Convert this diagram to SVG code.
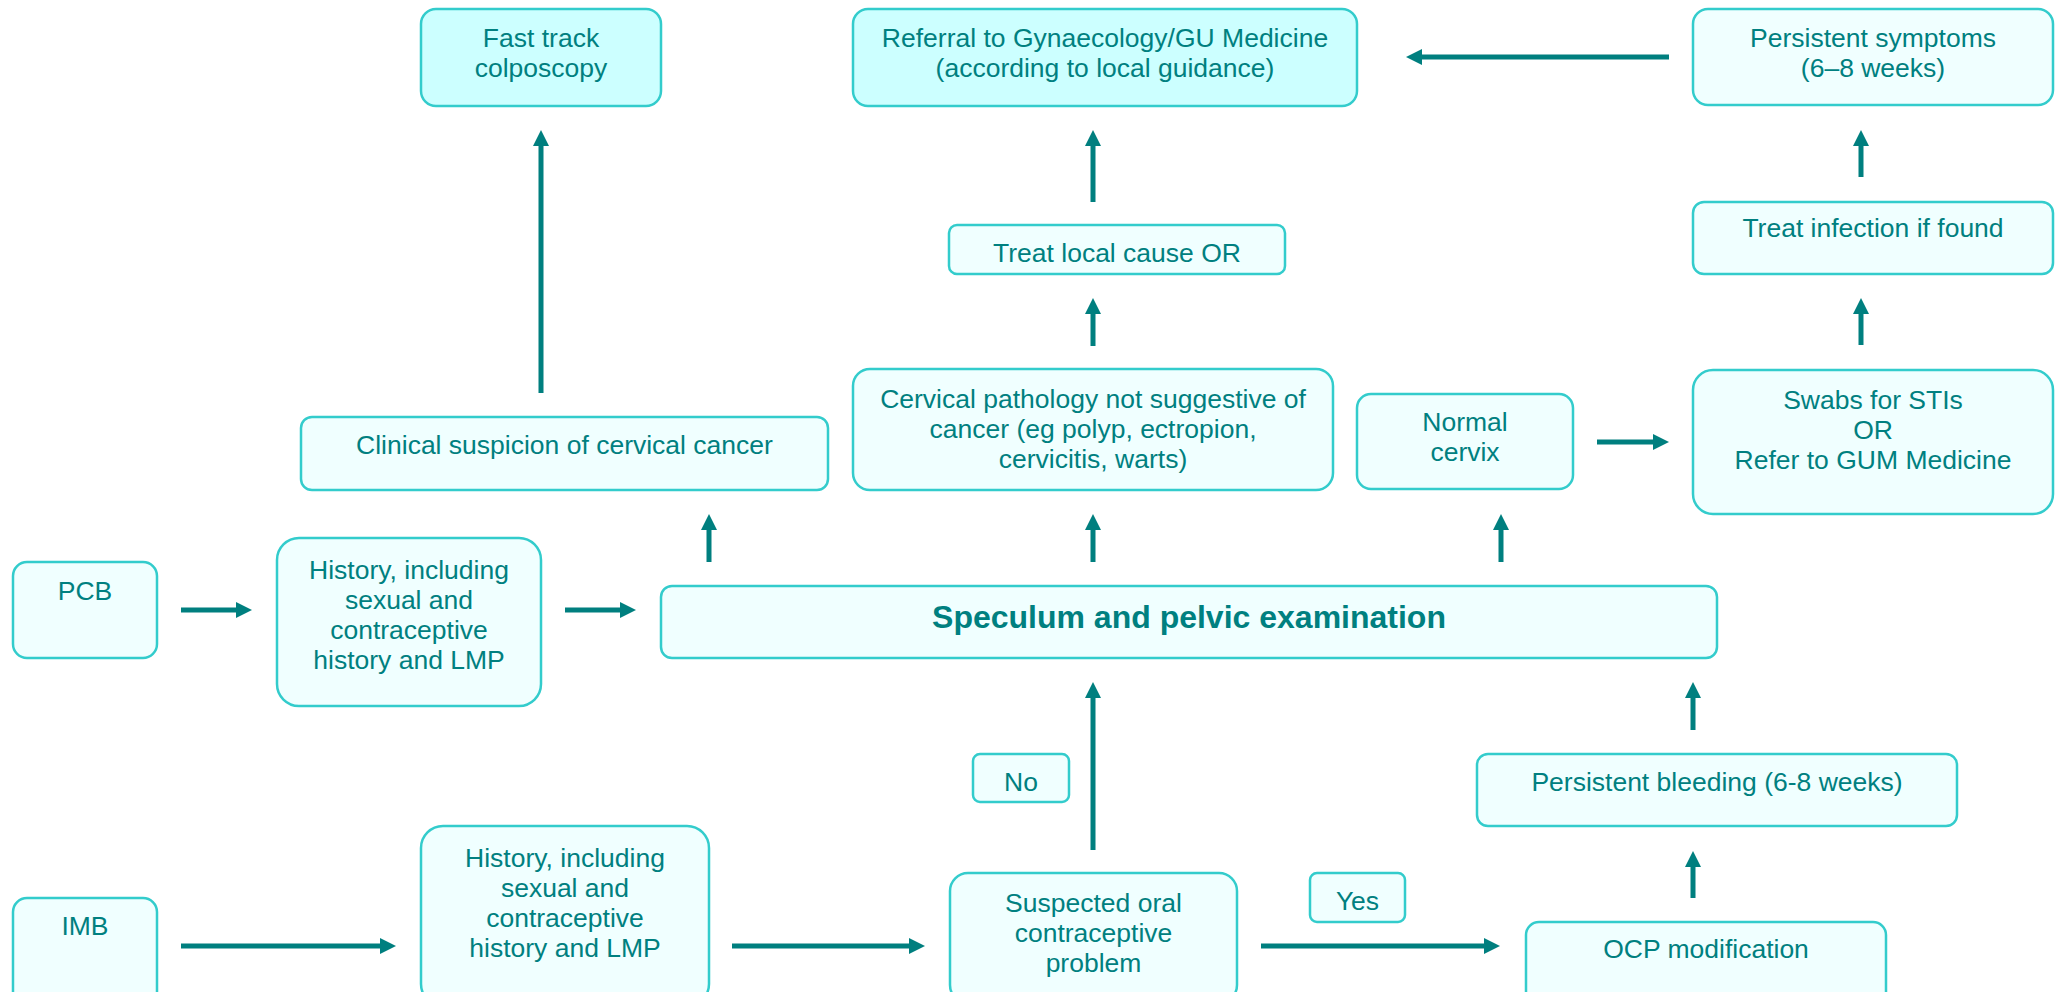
<svg xmlns="http://www.w3.org/2000/svg" width="2062" height="992" viewBox="0 0 2062 992">
<defs>
<marker id="ah" markerUnits="userSpaceOnUse" markerWidth="16" markerHeight="16" refX="2" refY="8" orient="auto">
<path d="M0,0 L16,8 L0,16 z" fill="#007F7F"/>
</marker>
</defs>
<style>
.box{fill:#F0FFFF;stroke:#33CCCC;stroke-width:2.5}
.hi{fill:#CCFFFF}
.t{font-family:"Liberation Sans",Arial,sans-serif;font-size:26.5px;fill:#008080;text-anchor:middle}
.b{font-weight:bold;font-size:32px}
.c{stroke:#007F7F;stroke-width:5;fill:none;marker-end:url(#ah)}
</style>
<rect width="2062" height="992" fill="#FFFFFF"/>
<g id="connectors">
<line class="c" x1="541" y1="393" x2="541" y2="144"/>
<line class="c" x1="1093" y1="202" x2="1093" y2="144"/>
<line class="c" x1="1093" y1="346" x2="1093" y2="312"/>
<line class="c" x1="1669" y1="57" x2="1420" y2="57"/>
<line class="c" x1="1861" y1="177" x2="1861" y2="144"/>
<line class="c" x1="1861" y1="345" x2="1861" y2="312"/>
<line class="c" x1="1597" y1="442" x2="1655" y2="442"/>
<line class="c" x1="709" y1="562" x2="709" y2="528"/>
<line class="c" x1="1093" y1="562" x2="1093" y2="528"/>
<line class="c" x1="1501" y1="562" x2="1501" y2="528"/>
<line class="c" x1="181" y1="610" x2="238" y2="610"/>
<line class="c" x1="565" y1="610" x2="622" y2="610"/>
<line class="c" x1="1093" y1="850" x2="1093" y2="696"/>
<line class="c" x1="181" y1="946" x2="382" y2="946"/>
<line class="c" x1="732" y1="946" x2="911" y2="946"/>
<line class="c" x1="1261" y1="946" x2="1486" y2="946"/>
<line class="c" x1="1693" y1="898" x2="1693" y2="865"/>
<line class="c" x1="1693" y1="730" x2="1693" y2="696"/>
</g>
<g id="fast-track"><rect class="box hi" x="421" y="9" width="240" height="97" rx="15"/>
<text class="t" x="541" y="47">Fast track</text><text class="t" x="541" y="77">colposcopy</text></g>
<g id="referral"><rect class="box hi" x="853" y="9" width="504" height="97" rx="15"/>
<text class="t" x="1105" y="47">Referral to Gynaecology/GU Medicine</text><text class="t" x="1105" y="77">(according to local guidance)</text></g>
<g id="persistent-symptoms"><rect class="box" x="1693" y="9" width="360" height="96" rx="15"/>
<text class="t" x="1873" y="47">Persistent symptoms</text><text class="t" x="1873" y="77">(6–8 weeks)</text></g>
<g id="treat-local"><rect class="box" x="949" y="225" width="336" height="49" rx="8"/>
<text class="t" x="1117" y="262">Treat local cause OR</text></g>
<g id="treat-infection"><rect class="box" x="1693" y="202" width="360" height="72" rx="11"/>
<text class="t" x="1873" y="237">Treat infection if found</text></g>
<g id="clinical-suspicion"><rect class="box" x="301" y="417" width="527" height="73" rx="11"/>
<text class="t" x="564.5" y="454">Clinical suspicion of cervical cancer</text></g>
<g id="cervical-pathology"><rect class="box" x="853" y="369" width="480" height="121" rx="17"/>
<text class="t" x="1093" y="408">Cervical pathology not suggestive of</text><text class="t" x="1093" y="438">cancer (eg polyp, ectropion,</text><text class="t" x="1093" y="468">cervicitis, warts)</text></g>
<g id="normal-cervix"><rect class="box" x="1357" y="394" width="216" height="95" rx="14"/>
<text class="t" x="1465" y="431">Normal</text><text class="t" x="1465" y="461">cervix</text></g>
<g id="swabs"><rect class="box" x="1693" y="370" width="360" height="144" rx="20"/>
<text class="t" x="1873" y="409">Swabs for STIs</text><text class="t" x="1873" y="439">OR</text><text class="t" x="1873" y="469">Refer to GUM Medicine</text></g>
<g id="pcb"><rect class="box" x="13" y="562" width="144" height="96" rx="14"/>
<text class="t" x="85" y="600">PCB</text></g>
<g id="history-1"><rect class="box" x="277" y="538" width="264" height="168" rx="22"/>
<text class="t" x="409" y="579">History, including</text><text class="t" x="409" y="609">sexual and</text><text class="t" x="409" y="639">contraceptive</text><text class="t" x="409" y="669">history and LMP</text></g>
<g id="speculum"><rect class="box" x="661" y="586" width="1056" height="72" rx="11"/>
<text class="t b" x="1189" y="628">Speculum and pelvic examination</text></g>
<g id="no"><rect class="box" x="973" y="754" width="96" height="48" rx="7"/>
<text class="t" x="1021" y="791">No</text></g>
<g id="persistent-bleeding"><rect class="box" x="1477" y="754" width="480" height="72" rx="11"/>
<text class="t" x="1717" y="791">Persistent bleeding (6-8 weeks)</text></g>
<g id="imb"><rect class="box" x="13" y="898" width="144" height="110" rx="14"/>
<text class="t" x="85" y="935">IMB</text></g>
<g id="history-2"><rect class="box" x="421" y="826" width="288" height="180" rx="22"/>
<text class="t" x="565" y="867">History, including</text><text class="t" x="565" y="897">sexual and</text><text class="t" x="565" y="927">contraceptive</text><text class="t" x="565" y="957">history and LMP</text></g>
<g id="suspected-ocp"><rect class="box" x="950" y="873" width="287" height="130" rx="18"/>
<text class="t" x="1093.5" y="912">Suspected oral</text><text class="t" x="1093.5" y="942">contraceptive</text><text class="t" x="1093.5" y="972">problem</text></g>
<g id="yes"><rect class="box" x="1310" y="873" width="95" height="49" rx="7"/>
<text class="t" x="1357.5" y="910">Yes</text></g>
<g id="ocp-modification"><rect class="box" x="1526" y="922" width="360" height="90" rx="13"/>
<text class="t" x="1706" y="958">OCP modification</text></g>
</svg>
